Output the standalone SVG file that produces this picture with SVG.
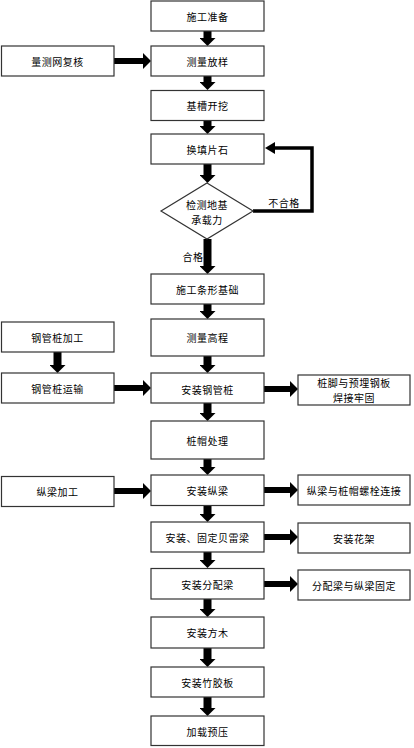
<svg xmlns="http://www.w3.org/2000/svg" width="414" height="748" viewBox="0 0 414 748">
<style>
.box{fill:#fff;stroke:#333;stroke-width:1.2}
.t{font-family:"Noto Sans CJK SC","Liberation Sans",sans-serif;font-size:10px;letter-spacing:0.5px;fill:#000;text-anchor:middle;dominant-baseline:central}
.dn{stroke:#000;stroke-width:8;fill:none;marker-end:url(#head)}
.rt{stroke:#000;stroke-width:6;fill:none;marker-end:url(#head)}
.loop{stroke:#000;stroke-width:3.5;fill:none;marker-end:url(#head2)}
</style>
<defs>
<marker id="head" viewBox="0 -8 8 16" markerWidth="8" markerHeight="16" refX="0" refY="0" orient="auto" markerUnits="userSpaceOnUse">
<path d="M0,-8 L8,0 L0,8 z" fill="#000"/>
</marker>
<marker id="head2" viewBox="0 -6 10 12" markerWidth="10" markerHeight="12" refX="0" refY="0" orient="auto" markerUnits="userSpaceOnUse">
<path d="M0,-6 L10,0 L0,6 z" fill="#000"/>
</marker>
</defs>
<rect width="414" height="748" fill="#fff"/>
<g id="connectors">
<line class="dn" x1="207.5" y1="31" x2="207.5" y2="38"/>
<line class="dn" x1="207.5" y1="76" x2="207.5" y2="82"/>
<line class="dn" x1="207.5" y1="120" x2="207.5" y2="126"/>
<line class="dn" x1="207.5" y1="164" x2="207.5" y2="175"/>
<line class="dn" x1="207.5" y1="239" x2="207.5" y2="266"/>
<line class="dn" x1="207.5" y1="304" x2="207.5" y2="311"/>
<line class="dn" x1="207.5" y1="356" x2="207.5" y2="365"/>
<line class="dn" x1="207.5" y1="403" x2="207.5" y2="413"/>
<line class="dn" x1="207.5" y1="459" x2="207.5" y2="467"/>
<line class="dn" x1="207.5" y1="505" x2="207.5" y2="514"/>
<line class="dn" x1="207.5" y1="552" x2="207.5" y2="560"/>
<line class="dn" x1="207.5" y1="599" x2="207.5" y2="609"/>
<line class="dn" x1="207.5" y1="648" x2="207.5" y2="659"/>
<line class="dn" x1="207.5" y1="697" x2="207.5" y2="708"/>
<line class="dn" x1="57.5" y1="352" x2="57.5" y2="365"/>
<line class="rt" x1="114" y1="61" x2="143" y2="61"/>
<line class="rt" x1="114" y1="388" x2="143" y2="388"/>
<line class="rt" x1="114" y1="491" x2="143" y2="491"/>
<line class="rt" x1="264" y1="389" x2="290" y2="389"/>
<line class="rt" x1="264" y1="490" x2="290" y2="490"/>
<line class="rt" x1="264" y1="537" x2="290" y2="537"/>
<line class="rt" x1="264" y1="584" x2="290" y2="584"/>
<polyline class="loop" points="253,211 312,211 312,148 275,148"/>
<text class="t" x="284" y="202">不合格</text>
<text class="t" x="193" y="256">合格</text>
</g>
<g id="n1"><rect class="box" x="151" y="1" width="113" height="30"/><text class="t" x="207.5" y="16">施工准备</text></g>
<g id="n2"><rect class="box" x="151" y="46" width="113" height="30"/><text class="t" x="207.5" y="61">测量放样</text></g>
<g id="n2l"><rect class="box" x="1.5" y="46" width="112.5" height="30"/><text class="t" x="57.5" y="61">量测网复核</text></g>
<g id="n3"><rect class="box" x="151" y="90.5" width="113" height="30"/><text class="t" x="207.5" y="105.5">基槽开挖</text></g>
<g id="n4"><rect class="box" x="151" y="134" width="113" height="30"/><text class="t" x="207.5" y="149">换填片石</text></g>
<g id="n5"><polygon class="box" points="207,183 253,211 207,239 161,211"/><text class="t" x="207" y="204">检测地基</text><text class="t" x="207" y="219">承载力</text></g>
<g id="n6"><rect class="box" x="151" y="274" width="113" height="30"/><text class="t" x="207.5" y="289">施工条形基础</text></g>
<g id="n7"><rect class="box" x="151" y="319" width="113" height="37"/><text class="t" x="207.5" y="337.5">测量高程</text></g>
<g id="n7l"><rect class="box" x="1.5" y="322" width="112.5" height="30"/><text class="t" x="57.5" y="337">钢管桩加工</text></g>
<g id="n8"><rect class="box" x="151" y="373" width="113" height="30"/><text class="t" x="207.5" y="389">安装钢管桩</text></g>
<g id="n8l"><rect class="box" x="1.5" y="373" width="112.5" height="30"/><text class="t" x="57.5" y="388">钢管桩运输</text></g>
<g id="n8r"><rect class="box" x="298" y="375" width="112" height="30"/><text class="t" x="354" y="382.5">桩脚与预埋钢板</text><text class="t" x="354" y="397.5">焊接牢固</text></g>
<g id="n9"><rect class="box" x="151" y="421" width="113" height="38"/><text class="t" x="207.5" y="440">桩帽处理</text></g>
<g id="n10"><rect class="box" x="151" y="475" width="113" height="30.5"/><text class="t" x="207.5" y="490">安装纵梁</text></g>
<g id="n10l"><rect class="box" x="1.5" y="476.5" width="112.5" height="30"/><text class="t" x="57.5" y="491.5">纵梁加工</text></g>
<g id="n10r"><rect class="box" x="298" y="475" width="112" height="30"/><text class="t" x="354" y="490">纵梁与桩帽螺栓连接</text></g>
<g id="n11"><rect class="box" x="151" y="522" width="113" height="30"/><text class="t" x="207.5" y="537">安装、固定贝雷梁</text></g>
<g id="n11r"><rect class="box" x="298" y="523" width="112" height="30"/><text class="t" x="354" y="538">安装花架</text></g>
<g id="n12"><rect class="box" x="151" y="568.5" width="113" height="30.5"/><text class="t" x="207.5" y="584">安装分配梁</text></g>
<g id="n12r"><rect class="box" x="298" y="570" width="112" height="30"/><text class="t" x="354" y="585">分配梁与纵梁固定</text></g>
<g id="n13"><rect class="box" x="151" y="617" width="113" height="31"/><text class="t" x="207.5" y="632.5">安装方木</text></g>
<g id="n14"><rect class="box" x="151" y="667" width="113" height="30"/><text class="t" x="207.5" y="682">安装竹胶板</text></g>
<g id="n15"><rect class="box" x="151" y="716" width="113" height="29.5"/><text class="t" x="207.5" y="731">加载预压</text></g>
</svg>
